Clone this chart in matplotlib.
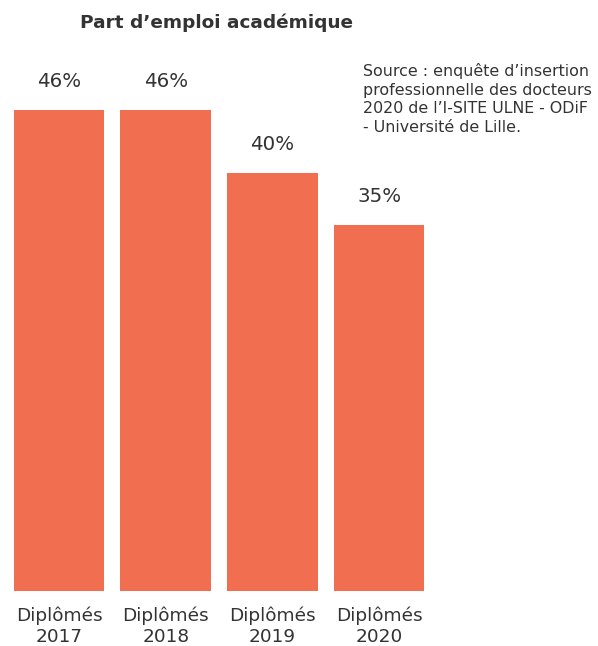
import matplotlib.pyplot as plt

categories = ['Diplômés\n2017', 'Diplômés\n2018', 'Diplômés\n2019', 'Diplômés\n2020']
values = [46, 46, 40, 35]
title = "Part d\u2019emploi académique"
source = ("Source : enquête d\u2019insertion\n"
          "professionnelle des docteurs\n"
          "2020 de l\u2019I-SITE ULNE - ODiF\n"
          "- Université de Lille.")

bar_color = '#F26E50'
text_color = '#333333'

fig = plt.figure(figsize=(5.98, 6.46), dpi=100)
ax = fig.add_axes([0, 55 / 646, 1, 481 / 646])

x = list(range(len(values)))
ax.bar(x, values, width=0.85, color=bar_color)
ax.set_xlim(-59 / 106.7, (598 - 59) / 106.7)
ax.set_ylim(0, 46)

for xi, v in zip(x, values):
    ax.text(xi, v + 2.7, f'{v}%', ha='center', va='center',
            fontsize=14.3, color=text_color, clip_on=False)

ax.set_xticks(x)
ax.set_xticklabels(categories, fontsize=13.3, color=text_color, linespacing=1.25)
ax.tick_params(axis='x', length=0, pad=11)
ax.set_yticks([])
for s in ax.spines.values():
    s.set_visible(False)

fig.text(216 / 598, 1 - 23 / 646, title, ha='center', va='center',
         fontsize=13.3, fontweight='bold', color=text_color)
fig.text(363 / 598, 1 - 63 / 646, source, ha='left', va='top',
         fontsize=11.4, color=text_color, linespacing=1.31)

fig.savefig('out.png', dpi=100)
